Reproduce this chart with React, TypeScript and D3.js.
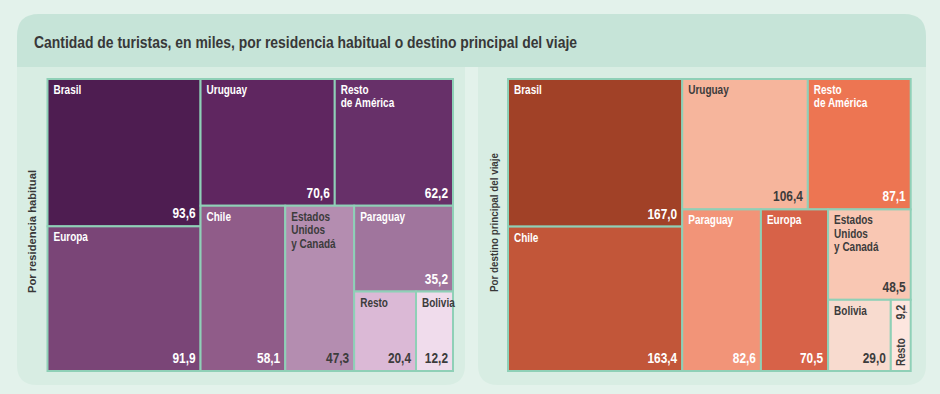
import React, { useEffect, useRef } from 'react';
import * as d3 from 'd3';

const titulo = "Cantidad de turistas, en miles, por residencia habitual o destino principal del viaje";

// Por residencia habitual
const residenciaNombres = ["Brasil", "Europa", "Uruguay", "Resto\nde América", "Chile", "Estados\nUnidos\ny Canadá", "Paraguay", "Resto", "Bolivia"];
const residenciaValores = [93.6, 91.9, 70.6, 62.2, 58.1, 47.3, 35.2, 20.4, 12.2];
const residenciaColores = ["#4e1d51", "#7a4577", "#5f2660", "#673069", "#905c89", "#b48db0", "#a0759d", "#dbb9d6", "#f0dcec"];
const residenciaTextoOscuro = [false, false, false, false, false, true, false, true, true];

// Por destino principal del viaje
const destinoNombres = ["Brasil", "Chile", "Uruguay", "Resto\nde América", "Paraguay", "Europa", "Estados\nUnidos\ny Canadá", "Bolivia", "Resto"];
const destinoValores = [167.0, 163.4, 106.4, 87.1, 82.6, 70.5, 48.5, 29.0, 9.2];
const destinoColores = ["#a14127", "#c25639", "#f6b59c", "#ed7552", "#f29478", "#d76248", "#f9c7b3", "#f8dbcf", "#fde6df"];
const destinoTextoOscuro = [false, false, true, false, false, false, true, true, true];

// agrupación de los índices (columnas / filas alternadas)
const agrupacion: any = [[0, 1], [[2, 3], [4, 5, [6, [7, 8]]]]];

const FONT = "'Liberation Sans', Arial, sans-serif";
const ANGOSTO_ETIQUETA = 0.8; // compresión horizontal para imitar una fuente condensada
const ANGOSTO_VALOR = 0.82;
const BORDE = "#8fd0b7";

const fmt = (v: number) => d3.format(".1f")(v).replace(".", ",");

function construir(spec: any, nombres: string[], valores: number[], colores: string[], oscuro: boolean[]): any {
  if (typeof spec === "number") {
    return { name: nombres[spec], value: valores[spec], color: colores[spec], dark: oscuro[spec] };
  }
  return { children: spec.map((s: any) => construir(s, nombres, valores, colores, oscuro)) };
}

function dibujarTreemap(g: any, x0: number, y0: number, w: number, h: number,
  nombres: string[], valores: number[], colores: string[], oscuro: boolean[]) {
  const root = d3.hierarchy(construir(agrupacion, nombres, valores, colores, oscuro))
    .sum((d: any) => d.value || 0);
  d3.treemap().tile(d3.treemapSliceDice).size([w, h])(root as any);

  const cells = g.append("g").attr("transform", `translate(${x0},${y0})`)
    .selectAll("g.cell")
    .data(root.leaves())
    .enter()
    .append("g")
    .attr("class", "cell");

  cells.append("rect")
    .attr("x", (d: any) => d.x0)
    .attr("y", (d: any) => d.y0)
    .attr("width", (d: any) => d.x1 - d.x0)
    .attr("height", (d: any) => d.y1 - d.y0)
    .attr("fill", (d: any) => d.data.color)
    .attr("stroke", BORDE)
    .attr("stroke-width", 2);

  cells.each(function (this: any, d: any) {
    const c = d3.select(this);
    const fill = d.data.dark ? "#3c3c3c" : "#ffffff";
    const cw = d.x1 - d.x0;
    if (cw < 30) {
      // celda angosta: texto vertical
      c.append("text")
        .attr("transform", `translate(${d.x1 - 6},${d.y1 - 5}) rotate(-90) scale(${ANGOSTO_ETIQUETA},1)`)
        .attr("font-family", FONT).attr("font-weight", "bold").attr("font-size", 12.5)
        .attr("fill", fill)
        .text(d.data.name);
      c.append("text")
        .attr("transform", `translate(${d.x1 - 6},${d.y0 + 5}) rotate(-90) scale(${ANGOSTO_VALOR},1)`)
        .attr("text-anchor", "end")
        .attr("font-family", FONT).attr("font-weight", "bold").attr("font-size", 13)
        .attr("fill", fill)
        .text(fmt(d.data.value));
      return;
    }
    const lines = d.data.name.split("\n");
    const t = c.append("text")
      .attr("transform", `translate(${d.x0 + 6},${d.y0 + 15}) scale(${ANGOSTO_ETIQUETA},1)`)
      .attr("font-family", FONT).attr("font-weight", "bold").attr("font-size", 12.5)
      .attr("fill", fill);
    lines.forEach((l: string, i: number) => {
      t.append("tspan").attr("x", 0).attr("y", i * 13.5).text(l);
    });
    c.append("text")
      .attr("transform", `translate(${d.x1 - 5},${d.y1 - 8}) scale(${ANGOSTO_VALOR},1)`)
      .attr("text-anchor", "end")
      .attr("font-family", FONT).attr("font-weight", "bold").attr("font-size", 14.5)
      .attr("fill", fill)
      .text(fmt(d.data.value));
  });
}

function panelPath(x0: number, y0: number, x1: number, y1: number, r: number) {
  const p = d3.path();
  p.moveTo(x0, y0);
  p.lineTo(x1, y0);
  p.lineTo(x1, y1 - r);
  p.quadraticCurveTo(x1, y1, x1 - r, y1);
  p.lineTo(x0 + r, y1);
  p.quadraticCurveTo(x0, y1, x0, y1 - r);
  p.closePath();
  return p.toString();
}

function headerPath(x0: number, y0: number, x1: number, y1: number, r: number) {
  const p = d3.path();
  p.moveTo(x0, y1);
  p.lineTo(x0, y0 + r);
  p.quadraticCurveTo(x0, y0, x0 + r, y0);
  p.lineTo(x1 - r, y0);
  p.quadraticCurveTo(x1, y0, x1, y0 + r);
  p.lineTo(x1, y1);
  p.closePath();
  return p.toString();
}

export default function App() {
  const svgRef = useRef<SVGSVGElement>(null);

  useEffect(() => {
    if (!svgRef.current) return;
    const svg = d3.select(svgRef.current);
    svg.selectAll("*").remove();

    svg.append("rect").attr("width", 940).attr("height", 394).attr("fill", "#e3f2eb");

    svg.append("path").attr("d", headerPath(17, 14, 926, 67, 22)).attr("fill", "#c6e4d8");
    svg.append("path").attr("d", panelPath(17, 67, 465, 385, 20)).attr("fill", "#d8ede3");
    svg.append("path").attr("d", panelPath(478, 67, 926, 385, 20)).attr("fill", "#d8ede3");

    svg.append("text")
      .attr("x", 34).attr("y", 48)
      .attr("textLength", 543).attr("lengthAdjust", "spacingAndGlyphs")
      .attr("font-family", FONT).attr("font-weight", "bold").attr("font-size", 16)
      .attr("fill", "#383838")
      .text(titulo);

    svg.append("text")
      .attr("transform", "translate(36,293) rotate(-90)")
      .attr("textLength", 123).attr("lengthAdjust", "spacingAndGlyphs")
      .attr("font-family", FONT).attr("font-weight", "bold").attr("font-size", 11.5)
      .attr("fill", "#383838")
      .text("Por residencia habitual");

    svg.append("text")
      .attr("transform", "translate(498,292) rotate(-90)")
      .attr("textLength", 139).attr("lengthAdjust", "spacingAndGlyphs")
      .attr("font-family", FONT).attr("font-weight", "bold").attr("font-size", 11.5)
      .attr("fill", "#383838")
      .text("Por destino principal del viaje");

    dibujarTreemap(svg, 47.5, 79, 405.5, 292, residenciaNombres, residenciaValores, residenciaColores, residenciaTextoOscuro);
    dibujarTreemap(svg, 508, 79, 402.7, 292, destinoNombres, destinoValores, destinoColores, destinoTextoOscuro);
  }, []);

  return (
    <svg ref={svgRef} width={940} height={394}
      style={{ position: 'absolute', left: 0, top: 0, display: 'block' }} />
  );
}
